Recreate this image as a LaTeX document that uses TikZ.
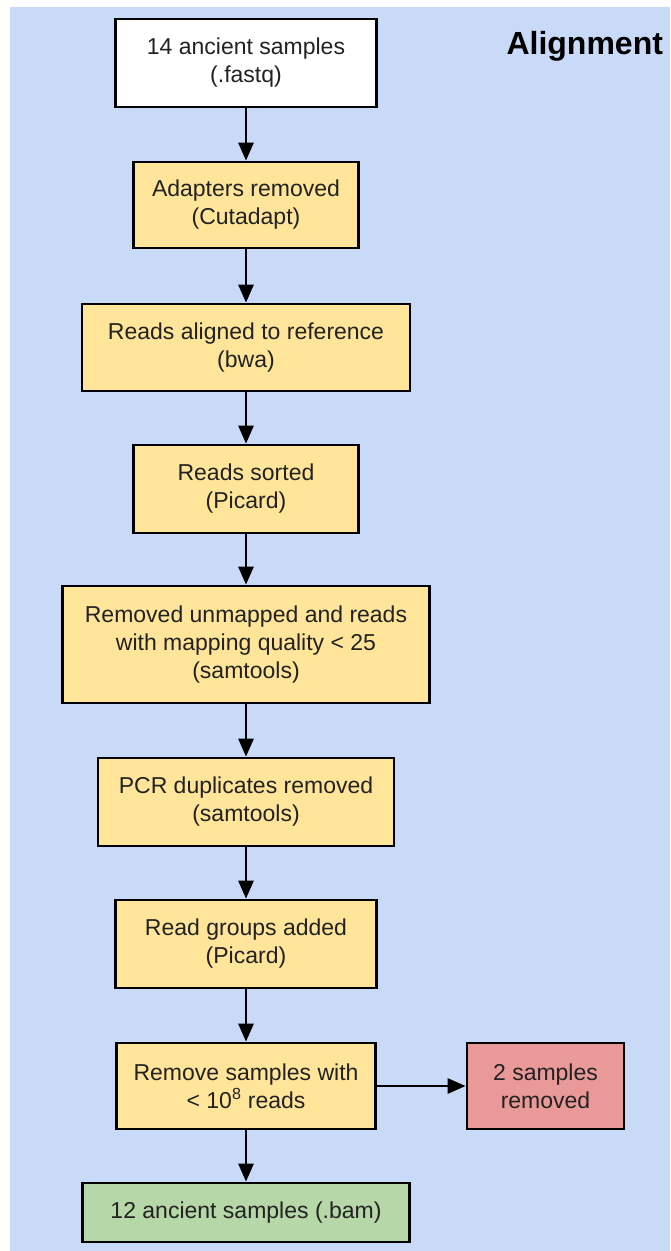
\documentclass[tikz,border=0pt]{standalone}
\usepackage{fontspec}
\setmainfont{Liberation Sans}
\usetikzlibrary{arrows.meta}
\definecolor{bgblue}{HTML}{C9DAF8}
\definecolor{boxyellow}{HTML}{FFE599}
\definecolor{boxred}{HTML}{EA9999}
\definecolor{boxgreen}{HTML}{B6D7A8}
\definecolor{txt}{HTML}{222222}
\begin{document}
\begin{tikzpicture}[x=1pt,y=-1pt,
  stepbox/.style={draw=black, line width=2.7pt, align=center, inner sep=0pt,
    font=\fontsize{23}{28}\selectfont, text=txt},
  yellowbox/.style={stepbox, fill=boxyellow},
  arr/.style={line width=2.7pt, -{Triangle[length=18pt,width=15pt]}}]
\useasboundingbox (0,0) rectangle (670,1251);
\fill[bgblue] (10,7) rectangle (670,1251);

\node[anchor=base west, font=\bfseries\fontsize{32}{38}\selectfont, text=black] (title) at (503,54) {Alignment};

\node[stepbox, fill=white, minimum width=261pt, minimum height=88pt] (n1) at (246,63) {14 ancient samples\\(.fastq)};
\node[yellowbox, minimum width=225pt, minimum height=86pt] (n2) at (246,205) {Adapters removed\\(Cutadapt)};
\node[yellowbox, minimum width=328pt, minimum height=87pt] (n3) at (246,347.5) {Reads aligned to reference\\(bwa)};
\node[yellowbox, minimum width=225pt, minimum height=88pt] (n4) at (246,489) {Reads sorted\\(Picard)};
\node[yellowbox, minimum width=367pt, minimum height=117pt] (n5) at (246,644.5) {Removed unmapped and reads\\with mapping quality < 25\\(samtools)};
\node[yellowbox, minimum width=296pt, minimum height=88pt] (n6) at (246,802) {PCR duplicates removed\\(samtools)};
\node[yellowbox, minimum width=261pt, minimum height=88pt] (n7) at (246,944) {Read groups added\\(Picard)};
\node[yellowbox, minimum width=259pt, minimum height=86pt] (n8) at (246,1086) {Remove samples with\\< 10\textsuperscript{8} reads};
\node[stepbox, fill=boxred, minimum width=157pt, minimum height=86pt] (n9) at (545.5,1086) {2 samples\\removed};
\node[stepbox, fill=boxgreen, minimum width=327pt, minimum height=59pt] (n10) at (246,1212.5) {12 ancient samples (.bam)};

\draw[arr] (n1) -- (n2);
\draw[arr] (n2) -- (n3);
\draw[arr] (n3) -- (n4);
\draw[arr] (n4) -- (n5);
\draw[arr] (n5) -- (n6);
\draw[arr] (n6) -- (n7);
\draw[arr] (n7) -- (n8);
\draw[arr] (n8) -- (n9);
\draw[arr] (n8) -- (n10);
\end{tikzpicture}
\end{document}
